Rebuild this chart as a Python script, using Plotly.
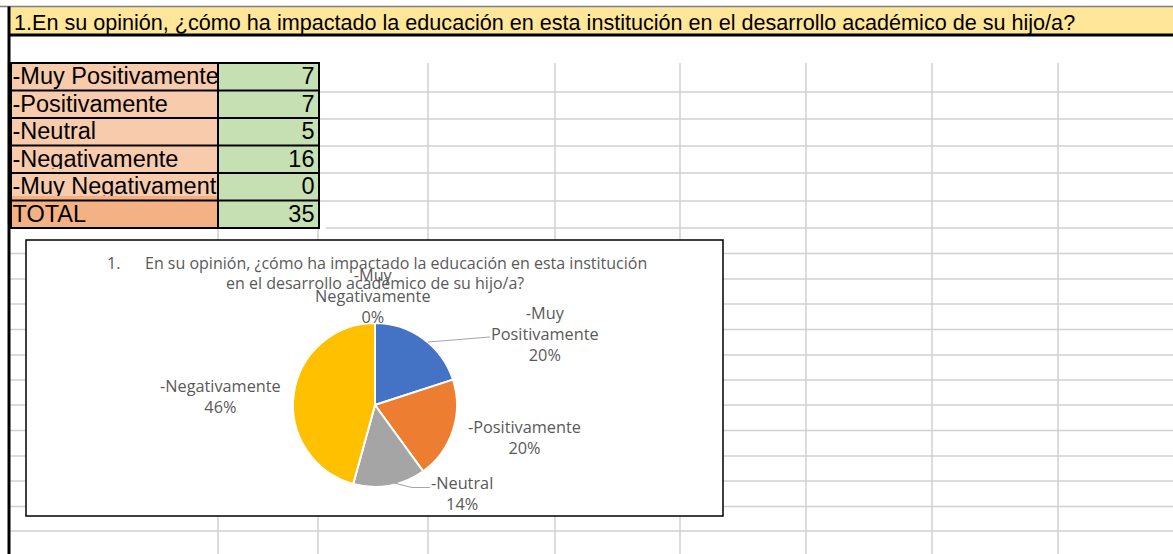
import numpy as np
import plotly.graph_objects as go

W, H = 1173, 554

# ---------------- data ----------------
question = ("1.En su opinión, ¿cómo ha impactado la educación en esta institución "
            "en el desarrollo académico de su hijo/a?")
categories = ["-Muy Positivamente", "-Positivamente", "-Neutral",
              "-Negativamente", "-Muy Negativamente"]
counts = [7, 7, 5, 16, 0]
total_label = "TOTAL"
total = int(np.sum(counts))
slice_colors = ["#4472C4", "#ED7D31", "#A5A5A5", "#FFC000", "#5B9BD5"]
chart_title_num = "1."
chart_title_l1 = "En su opinión, ¿cómo ha impactado la educación en esta institución"
chart_title_l2 = "en el desarrollo académico de su hijo/a?"

pcts = np.round(np.array(counts) / total * 100).astype(int)


def px(x):
    return x / W


def py(y):
    return 1 - y / H


def line(x0, y0, x1, y1, color, width, layer="below"):
    return dict(type="line", xref="paper", yref="paper", x0=px(x0), x1=px(x1),
                y0=py(y0), y1=py(y1), line=dict(color=color, width=width), layer=layer)


def rect(x0, y0, x1, y1, fill, lc=None, lw=0, layer="below"):
    return dict(type="rect", xref="paper", yref="paper", x0=px(x0), x1=px(x1),
                y0=py(y1), y1=py(y0), fillcolor=fill,
                line=dict(color=lc or fill, width=lw), layer=layer)


fig = go.Figure()
shapes = []
GRID = "#D0D0D0"
LBL, TOT, VAL = "#F8CBAD", "#F4B183", "#C6E0B4"

# sheet grid lines (below layer)
for y in [228, 253.5, 279, 304, 329.5, 355, 380, 405, 430.5, 456, 481, 506.5, 531]:
    shapes.append(line(9, y, W + 2, y, GRID, 1.5))
for x in [428, 555, 680, 806, 932, 1058]:
    shapes.append(line(x, 63, x, H + 2, GRID, 1.5))
for x in [218, 318]:
    shapes.append(line(x, 228, x, H + 2, GRID, 1.5))

# header band
shapes.append(rect(9, 7, W + 5, 35, "#FFE699"))
shapes.append(line(0, 6.5, W + 2, 6.5, "#7F7F7F", 1.5))
shapes.append(line(9, 35, W + 2, 35, "black", 3))

# chart box
shapes.append(rect(26, 240, 723, 516, "white", "black", 1.5))

# leader lines
LEAD = "#A6A6A6"
shapes.append(dict(type="path", xref="paper", yref="paper",
                   path=f"M {px(428)},{py(342)} L {px(490)},{py(337)}",
                   line=dict(color=LEAD, width=1.2)))
shapes.append(dict(type="path", xref="paper", yref="paper",
                   path=f"M {px(394)},{py(483)} L {px(412)},{py(487.5)} L {px(430)},{py(487.5)}",
                   line=dict(color=LEAD, width=1.2)))

# ---------------- table ----------------
row_labels = [c.replace(" ", "\u00a0") for c in categories[1:]] + [total_label]
row_values = counts[1:] + [total]
TX0, TCOL, TX1 = 4.5, 218, 323   # table trace extent (text pads of 8px)
TY0, TY1 = 63, 228
S = 4.5                           # lift table text to centre it in the rows
ROWH = (TY1 - TY0) / 6
TFONT = dict(family="Liberation Sans, Arial", size=23.5, color="black")

# bottom strip of last row (table trace is lifted by S)
shapes.append(rect(9, TY1 - S - 1, TCOL, TY1 + 0.5, TOT))
shapes.append(rect(TCOL, TY1 - S - 1, 320, TY1 + 0.5, VAL))

fig.add_trace(go.Table(
    domain=dict(x=[px(TX0), px(TX1)], y=[py(TY1 - S + 0.5), py(TY0 - S)]),
    columnwidth=[TCOL - TX0, TX1 - TCOL],
    header=dict(values=[categories[0].replace(" ", "\u00a0"), str(counts[0])],
                fill=dict(color=[LBL, VAL]),
                line=dict(color=[LBL, VAL], width=0),
                align=["left", "right"], height=ROWH, font=TFONT),
    cells=dict(values=[row_labels, [str(v) for v in row_values]],
               fill=dict(color=[[LBL] * 4 + [TOT], [VAL] * 5]),
               line=dict(color=[LBL, VAL], width=0),
               align=["left", "right"], height=ROWH, font=TFONT),
))

# covers / borders drawn above the table
shapes.append(rect(0, 50, 7.6, 232, "white", layer="above"))
shapes.append(rect(320, 50, 326, 232, "white", layer="above"))
shapes.append(rect(0, 50, 326, TY0 - 0.8, "white", layer="above"))
for y in [92, 119, 146, 173, 201]:
    shapes.append(line(319, y, W + 2, y, GRID, 1.5, layer="above"))
for i in range(7):
    y = TY0 + i * ROWH
    shapes.append(line(11, y, 319, y, "black", 2, layer="above"))
for x in [11, 218, 319]:
    shapes.append(line(x, TY0 - 1, x, TY1 + 1, "black", 2, layer="above"))
# sheet left border
shapes.append(line(9, 6.5, 9, H + 2, "black", 3, layer="above"))

# ---------------- pie ----------------
cx, cy, r = 375, 405, 82
fig.add_trace(go.Pie(
    labels=categories, values=counts, sort=False, direction="clockwise", rotation=0,
    marker=dict(colors=slice_colors, line=dict(color="white", width=2)),
    textinfo="none", hoverinfo="label+percent", showlegend=False,
    domain=dict(x=[px(cx - r), px(cx + r)], y=[py(cy + r), py(cy - r)]),
))

# ---------------- annotations ----------------
TXT = "#595959"
CF = "Open Sans"
ann = []


def text(t, x, y, size, color=TXT, family=CF, anchor="center"):
    ann.append(dict(text=t, x=px(x), y=py(y), xanchor=anchor, yanchor="middle",
                    showarrow=False, xref="paper", yref="paper", align="center",
                    font=dict(family=family, size=size, color=color)))


text(question, 12, 22, 21.6, color="black", family="Liberation Sans, Arial", anchor="left")
text(chart_title_num, 105, 263, 16, anchor="left")
text(chart_title_l1, 143, 263, 16, anchor="left")
text(chart_title_l2, 375, 283, 16)

# (x centre, y centre of label block)
label_pos = [(545, 334), (524, 437), (462, 493), (220, 396), (373, 296)]
for cat, p, (lx, ly) in zip(categories, pcts, label_pos):
    name = cat.replace(" ", "<br>", 1) if cat.startswith("-Muy") else cat
    text(f"{name}<br>{p}%", lx, ly, 16.3)

fig.update_layout(
    width=W, height=H, margin=dict(l=0, r=0, t=0, b=0),
    paper_bgcolor="white", plot_bgcolor="white",
    shapes=shapes, annotations=ann, showlegend=False,
)

fig.write_html("out.html", config={"displayModeBar": False, "staticPlot": True},
               post_script="document.body.style.margin='0';"
                           "document.body.style.overflow='hidden';")
